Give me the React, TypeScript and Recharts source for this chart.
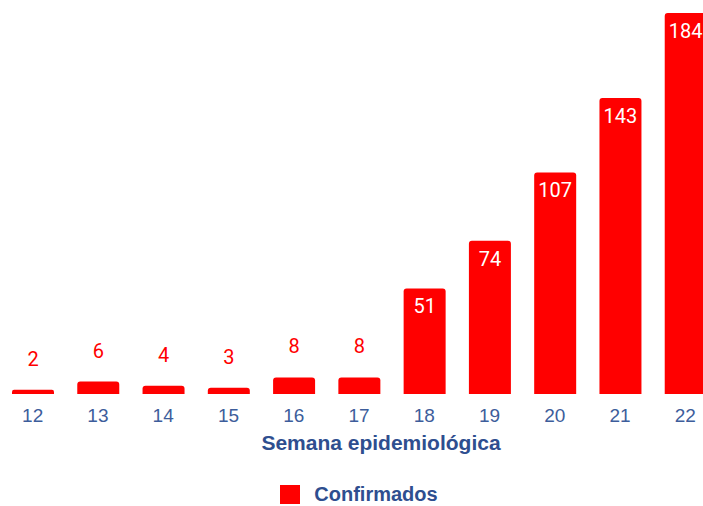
import React from 'react';
import { BarChart, Bar, XAxis, YAxis, Legend, LabelList } from 'recharts';

const weeks = ['12', '13', '14', '15', '16', '17', '18', '19', '20', '21', '22'];
const confirmed = [2, 6, 4, 3, 8, 8, 51, 74, 107, 143, 184];

const data = weeks.map((week, i) => ({ week, confirmed: confirmed[i] }));

const RED = '#FF0000';
const BLUE = '#2E4E8F';

// small bars get the number above in red, tall ones inside in white
const renderLabel = (props: any) => {
  const { x, y, width, value } = props;
  const inside = value > 20;
  return (
    <text
      x={x + width / 2}
      y={inside ? y + 18 : y - 31}
      textAnchor="middle"
      dominantBaseline="central"
      fill={inside ? '#FFFFFF' : RED}
      fontSize={20}
      fontFamily="Roboto, sans-serif"
    >
      {value}
    </text>
  );
};

const renderLegend = () => (
  <div style={{ display: 'flex', justifyContent: 'center', alignItems: 'center', paddingTop: 33, lineHeight: '22px' }}>
    <span style={{ width: 20, height: 19, background: RED, display: 'inline-block', marginRight: 14 }} />
    <span style={{ color: BLUE, fontWeight: 'bold', fontSize: 20, fontFamily: '"Liberation Sans", Arial, sans-serif' }}>
      Confirmados
    </span>
  </div>
);

export default function App() {
  return (
    <div style={{ position: 'absolute', left: 0, top: 0, width: 703, height: 506, overflow: 'hidden', background: '#fff' }}>
      <BarChart width={718} height={506} data={data} margin={{ top: 13, right: 0, bottom: 0, left: 0 }} barSize={42}>
        <XAxis
          dataKey="week"
          axisLine={false}
          tickLine={false}
          height={56}
          tick={{ fill: '#3D5D9B', fontSize: 19, fontFamily: '"Liberation Sans", Arial, sans-serif' }}
          tickMargin={9}
          label={{
            value: 'Semana epidemiológica',
            position: 'insideBottom',
            offset: 0,
            dx: 22,
            fill: BLUE,
            fontSize: 21,
            fontWeight: 'bold',
            fontFamily: '"Liberation Sans", Arial, sans-serif',
          }}
        />
        <YAxis hide domain={[0, 184]} />
        <Legend verticalAlign="bottom" height={56} content={renderLegend} />
        <Bar dataKey="confirmed" fill={RED} radius={[3, 3, 0, 0]} isAnimationActive={false}>
          <LabelList dataKey="confirmed" content={renderLabel} />
        </Bar>
      </BarChart>
    </div>
  );
}
